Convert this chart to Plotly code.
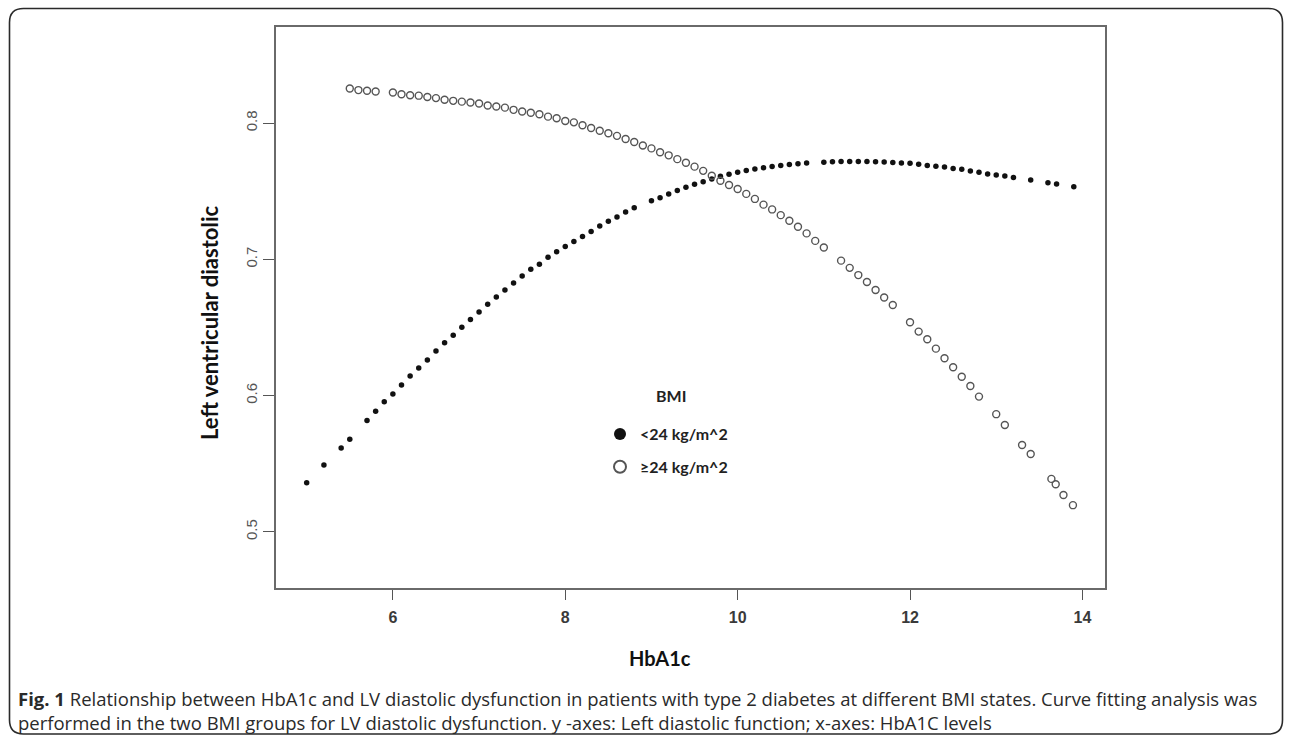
import plotly.graph_objects as go

# ---------------- data ----------------
hba1c_low = [5.0, 5.2, 5.4, 5.5, 5.7, 5.8, 5.9, 6.0, 6.1, 6.2, 6.3, 6.4, 6.5, 6.6, 6.7, 6.8, 6.9,
             7.0, 7.1, 7.2, 7.3, 7.4, 7.5, 7.6, 7.7, 7.8, 7.9, 8.0, 8.1, 8.2, 8.3, 8.4, 8.5, 8.6,
             8.7, 8.8, 9.0, 9.1, 9.2, 9.3, 9.4, 9.5, 9.6, 9.7, 9.8, 9.9, 10.0, 10.1, 10.2, 10.3,
             10.4, 10.5, 10.6, 10.7, 10.8, 11.0, 11.1, 11.2, 11.3, 11.4, 11.5, 11.6, 11.7, 11.8,
             11.9, 12.0, 12.1, 12.2, 12.3, 12.4, 12.5, 12.6, 12.7, 12.8, 12.9, 13.0, 13.1, 13.2,
             13.4, 13.6, 13.7, 13.9]
lvd_low = [0.536, 0.549, 0.5616, 0.568, 0.5817, 0.5886, 0.5955, 0.6012, 0.6078, 0.6145, 0.6203,
           0.6262, 0.6328, 0.6389, 0.6443, 0.6502, 0.6558, 0.6614, 0.667, 0.6724, 0.6775, 0.6827,
           0.6878, 0.6927, 0.6964, 0.7015, 0.7057, 0.7095, 0.7131, 0.7169, 0.7204, 0.7245, 0.7281,
           0.7312, 0.7348, 0.738, 0.743, 0.7452, 0.7481, 0.7505, 0.7529, 0.7551, 0.757, 0.759,
           0.761, 0.7625, 0.764, 0.7652, 0.7663, 0.7673, 0.7682, 0.769, 0.7697, 0.7702, 0.7707,
           0.7714, 0.7716, 0.7718, 0.7719, 0.7719, 0.7718, 0.7717, 0.7715, 0.7712, 0.7708, 0.7706,
           0.7698, 0.769, 0.7684, 0.7678, 0.7668, 0.7661, 0.7649, 0.7639, 0.7627, 0.7619, 0.7612,
           0.7602, 0.7583, 0.7563, 0.7553, 0.7533]

hba1c_high = [5.5, 5.6, 5.7, 5.8, 6.0, 6.1, 6.2, 6.3, 6.4, 6.5, 6.6, 6.7, 6.8, 6.9, 7.0, 7.1, 7.2,
              7.3, 7.4, 7.5, 7.6, 7.7, 7.8, 7.9, 8.0, 8.1, 8.2, 8.3, 8.4, 8.5, 8.6, 8.7, 8.8, 8.9,
              9.0, 9.1, 9.2, 9.3, 9.4, 9.5, 9.6, 9.7, 9.8, 9.9, 10.0, 10.1, 10.2, 10.3, 10.4, 10.5,
              10.6, 10.7, 10.8, 10.9, 11.0, 11.2, 11.3, 11.4, 11.5, 11.6, 11.7, 11.8, 12.0, 12.1,
              12.2, 12.3, 12.4, 12.5, 12.6, 12.7, 12.8, 13.0, 13.1, 13.3, 13.4, 13.64, 13.69,
              13.78, 13.89]
lvd_high = [0.8255, 0.8243, 0.8238, 0.8233, 0.8225, 0.8212, 0.8205, 0.8202, 0.8192, 0.8184, 0.8172,
            0.8164, 0.8158, 0.8152, 0.8144, 0.8130, 0.8122, 0.8114, 0.8098, 0.8086, 0.8077, 0.8066,
            0.8048, 0.8036, 0.8016, 0.8006, 0.7985, 0.7965, 0.7944, 0.7926, 0.7907, 0.7884, 0.7862,
            0.7836, 0.7815, 0.7787, 0.7764, 0.7736, 0.7710, 0.7681, 0.7650, 0.7614, 0.7577, 0.7546,
            0.7517, 0.7481, 0.7444, 0.7402, 0.7367, 0.7325, 0.7284, 0.7240, 0.7191, 0.7136, 0.7087,
            0.6991, 0.6938, 0.6885, 0.6834, 0.6776, 0.6720, 0.6665, 0.6539, 0.6470, 0.6414, 0.6345,
            0.6274, 0.6208, 0.6139, 0.6071, 0.5993, 0.5864, 0.5785, 0.5638, 0.5572, 0.5389, 0.5350,
            0.5271, 0.5196]

x_ticks = [6, 8, 10, 12, 14]
y_ticks = [0.5, 0.6, 0.7, 0.8]
y_ticktext = ["0.5", "0.6", "0.7", "0.8"]

series_names = ["<24 kg/m^2", "\u226524 kg/m^2"]
legend_title = "BMI"
x_title = "HbA1c"
y_title = "Left ventricular diastolic"
caption = ("<b>Fig. 1</b> Relationship between HbA1c and LV diastolic dysfunction in patients with "
           "type 2 diabetes at different BMI states. Curve fitting analysis was<br>"
           "performed in the two BMI groups for LV diastolic dysfunction. y -axes: Left diastolic "
           "function; x-axes: HbA1C levels")

# ---------------- layout geometry (pixels) ----------------
W, H = 1292, 738
L, R, T, B = 276, 1105, 27, 588          # plot frame edges
PW, PH = R - L, B - T


def px(x):
    return (x - L) / PW


def py(y):
    return (B - y) / PH


fig = go.Figure()
fig.add_trace(go.Scatter(
    x=hba1c_low, y=lvd_low, mode="markers", name=series_names[0], legendgroup="a",
    marker=dict(symbol="circle", size=5.5, color="#111111", line=dict(width=0))))
fig.add_trace(go.Scatter(
    x=hba1c_high, y=lvd_high, mode="markers", name=series_names[1], legendgroup="b",
    marker=dict(symbol="circle-open", size=7, color="#555555", line=dict(width=1.4, color="#555555"))))

# rounded outer border
x0, x1, y0, y1, r = 9.5, 1282.5, 8.5, 734.0, 14.0
path = (f"M {px(x0 + r)},{py(y0)} L {px(x1 - r)},{py(y0)} Q {px(x1)},{py(y0)} {px(x1)},{py(y0 + r)} "
        f"L {px(x1)},{py(y1 - r)} Q {px(x1)},{py(y1)} {px(x1 - r)},{py(y1)} "
        f"L {px(x0 + r)},{py(y1)} Q {px(x0)},{py(y1)} {px(x0)},{py(y1 - r)} "
        f"L {px(x0)},{py(y0 + r)} Q {px(x0)},{py(y0)} {px(x0 + r)},{py(y0)} Z")

fig.update_layout(
    width=W, height=H, autosize=False,
    margin=dict(l=L, r=W - R, t=T, b=H - B, pad=0),
    paper_bgcolor="white", plot_bgcolor="white",
    shapes=[dict(type="path", xref="paper", yref="paper", path=path,
                 line=dict(color="#2a2a2a", width=1.6), fillcolor="rgba(0,0,0,0)", layer="below")],
    xaxis=dict(range=[4.644, 14.262], tickvals=x_ticks, ticks="outside", ticklen=10, tickwidth=1.3,
               tickcolor="#555555", showline=True, mirror=True, linecolor="#6a6a6a", linewidth=1.8,
               showgrid=False, zeroline=False, ticklabelstandoff=4,
               tickfont=dict(family="Liberation Sans, Arial", size=16, color="#3a3a3a", weight="bold")),
    yaxis=dict(range=[0.4588, 0.8706], tickvals=y_ticks, ticktext=y_ticktext, tickangle=-90,
               ticks="outside", ticklen=11, tickwidth=1.3, tickcolor="#555555", showline=True,
               mirror=True, linecolor="#6a6a6a", linewidth=1.8, showgrid=False, zeroline=False,
               tickfont=dict(family="Liberation Sans, Arial", size=15, color="#555555")),
    legend=dict(x=px(600), y=py(417), xanchor="left", yanchor="top", bgcolor="rgba(0,0,0,0)",
                font=dict(family="Lato", size=16, color="#222222", weight="bold"),
                tracegroupgap=9, itemsizing="constant"),
    showlegend=True,
    annotations=[
        dict(text=f"<b>{legend_title}</b>", xref="paper", yref="paper", x=px(671), y=py(395),
             xanchor="center", yanchor="middle", showarrow=False,
             font=dict(family="Lato", size=16, color="#222222")),
        dict(text=f"<b>{x_title}</b>", xref="paper", yref="paper", x=px(660), y=py(658),
             xanchor="center", yanchor="middle", showarrow=False,
             font=dict(family="Lato", size=20, color="#111111")),
        dict(text=f"<b>{y_title}</b>", xref="paper", yref="paper", x=px(209), y=py(323),
             xanchor="center", yanchor="middle", showarrow=False, textangle=-90,
             font=dict(family="Lato", size=22, color="#111111")),
        dict(text=caption, xref="paper", yref="paper", x=px(16), y=py(710.5), xanchor="left",
             yanchor="middle", align="left", showarrow=False,
             font=dict(family="Open Sans", size=18.5, color="#2a2a2a")),
    ],
)

fig.write_html("out.html", config={"displayModeBar": False},
               post_script="document.body.style.margin='0px';document.body.style.padding='0px';")
